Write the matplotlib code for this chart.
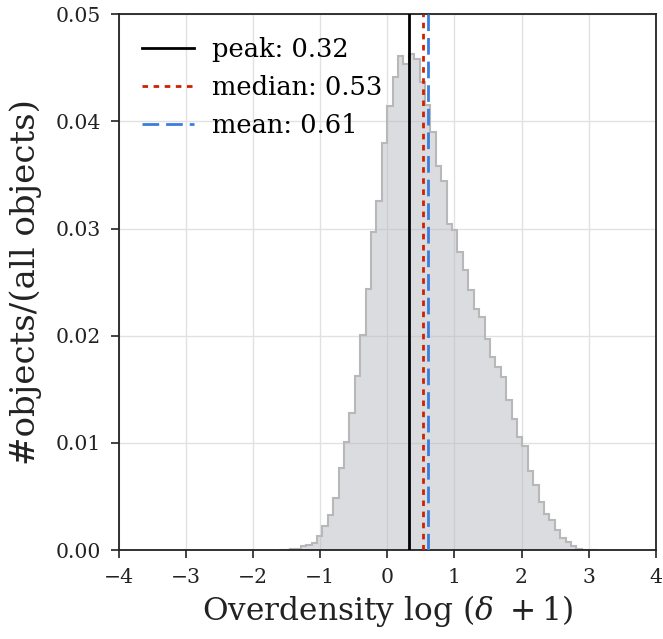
import numpy as np
from matplotlib import pyplot as plt

# histogram (fraction of objects per bin)
bin_left = -1.611   # left edge of first bin
bin_width = 0.0805  # width of each bin
frac = [0.00002, 0.00003, 0.00007, 0.00014, 0.00035, 0.00047, 0.00063, 0.00135,
        0.00222, 0.00331, 0.00484, 0.00767, 0.01007, 0.01277, 0.01629, 0.02003,
        0.02439, 0.02967, 0.03257, 0.03796, 0.04141, 0.04415, 0.04608, 0.04533,
        0.04631, 0.04580, 0.04365, 0.04150, 0.03901, 0.03581, 0.03441, 0.03046,
        0.02983, 0.02781, 0.02610, 0.02423, 0.02252, 0.02174, 0.01972, 0.01800,
        0.01707, 0.01613, 0.01396, 0.01225, 0.01053, 0.00976, 0.00742, 0.00612,
        0.00446, 0.00338, 0.00282, 0.00189, 0.00114, 0.00073, 0.00042, 0.00011,
        0.00005, 0.00002, 0.00001]

peak = 0.32
median = 0.53
mean = 0.61

xticks = [-4, -3, -2, -1, 0, 1, 2, 3, 4]
yticks = [0.00, 0.01, 0.02, 0.03, 0.04, 0.05]

plt.rcParams['font.family'] = ['DejaVu Serif']
plt.rcParams['mathtext.fontset'] = 'dejavuserif'

edges = bin_left + bin_width*np.arange(len(frac)+1) #bin edges

fig = plt.figure(figsize=(6.63, 6.39), dpi=100)
ax = fig.add_axes([0.1795, 0.139, 0.8095, 0.839])

ax.grid(True, color='#e1e1e1', linewidth=1.0, zorder=0)
ax.set_axisbelow(True)

ax.stairs(frac, edges, fill=True, facecolor='#b9bbc1', alpha=0.5, zorder=1)
ax.stairs(frac, edges, color='#b8b8b8', linewidth=1.5, zorder=2)

ax.axvline(peak, color='black', linewidth=2, label='peak: %.2f' % peak, zorder=3)
ax.axvline(median, color='#cc2200', linewidth=2, linestyle=(0, (2, 2)),
           label='median: %.2f' % median, zorder=3)
ax.axvline(mean, color='#3a7de0', linewidth=2, linestyle=(0, (6, 2.5)),
           label='mean: %.2f' % mean, zorder=3)

ax.set_xlim(-4, 4)
ax.set_ylim(0, 0.05)
ax.set_xticks(xticks)
ax.set_yticks(yticks)
ax.set_xticklabels(['\u2212%d' % -t if t < 0 else '%d' % t for t in xticks])
ax.set_yticklabels(['%.2f' % t for t in yticks])
ax.tick_params(direction='out', length=6, width=1.2, labelsize=14.7, colors='#222222',
               top=False, right=False, pad=7)
for s in ax.spines.values():
    s.set_color('#222222')
    s.set_linewidth(1.3)

ax.set_xlabel(r'Overdensity log $(\delta\ +1)$', fontsize=22.5, color='#222222', labelpad=4)
ax.set_ylabel('#objects/(all objects)', fontsize=24.5, color='#222222', labelpad=10)

ax.legend(loc='upper left', frameon=False, fontsize=18.5, handlelength=2.0,
          handletextpad=0.7, borderaxespad=0.5, labelspacing=0.5)

fig.savefig('out.png', dpi=100)
